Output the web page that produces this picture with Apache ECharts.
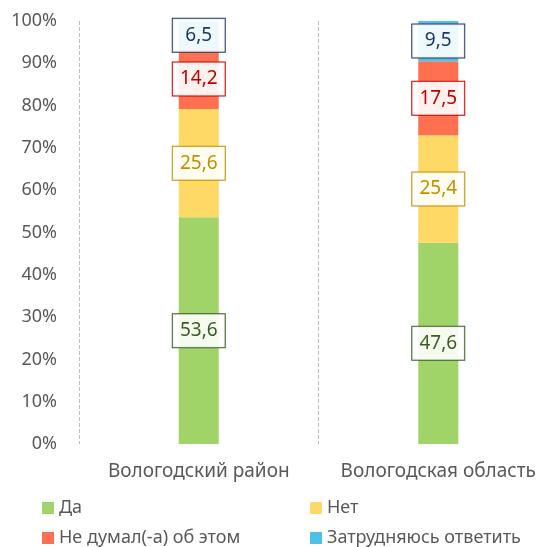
<!DOCTYPE html>
<html>
<head>
<meta charset="utf-8">
<script src="https://cdn.jsdelivr.net/npm/echarts@6/dist/echarts.min.js"></script>
<style>
  html, body { margin: 0; padding: 0; background: #fff; }
  #chart { width: 558px; height: 547px; }
</style>
</head>
<body>
<div id="chart"></div>
<script>
const categories = ['Вологодский район', 'Вологодская область'];
const seriesNames = ['Да', 'Нет', 'Не думал(-а) об этом', 'Затрудняюсь ответить'];
const yesValues = [53.6, 47.6];
const noValues = [25.6, 25.4];
const notThoughtValues = [14.2, 17.5];
const hardToSayValues = [6.5, 9.5];

const barColors = ['#A0D468', '#FFD966', '#FF7051', '#4FC1E9'];
const labelColors = ['#3B5E24', '#BF9000', '#C00000', '#1F3864'];

const chart = echarts.init(document.getElementById('chart'));

function makeSeries(name, values, idx) {
  return {
    name: name,
    type: 'bar',
    stack: 'total',
    barWidth: 40,
    data: values,
    itemStyle: { color: barColors[idx] },
    label: {
      show: true,
      position: 'inside',
      formatter: (p) => String(p.value).replace('.', ','),
      fontFamily: 'Noto Sans',
      fontSize: 19,
      color: labelColors[idx],
      backgroundColor: 'rgba(255,255,255,0.9)',
      borderColor: labelColors[idx],
      borderWidth: 1,
      width: 52,
      height: 33,
      lineHeight: 33,
      align: 'center',
      verticalAlign: 'middle',
      padding: 0
    },
    emphasis: { disabled: true }
  };
}

const option = {
  animation: false,
  textStyle: { fontFamily: 'Noto Sans' },
  grid: { left: 79, top: 21, width: 482, height: 423, containLabel: false },
  legend: {
    left: 42,
    top: 493,
    width: 540,
    padding: 0,
    itemWidth: 12,
    itemHeight: 12,
    itemGap: 0,
    icon: 'rect',
    data: seriesNames,
    textStyle: {
      fontFamily: 'Noto Sans',
      fontSize: 18,
      color: '#595959',
      width: 251,
      lineHeight: 30
    }
  },
  xAxis: {
    type: 'category',
    data: categories,
    axisLine: { show: false },
    axisTick: { show: false },
    axisLabel: {
      interval: 0,
      fontFamily: 'Noto Sans',
      fontSize: 19,
      color: '#595959',
      margin: 18
    },
    splitLine: {
      show: true,
      interval: 0,
      lineStyle: { type: 'dashed', color: '#BFBFBF', width: 1 }
    }
  },
  yAxis: {
    type: 'value',
    min: 0,
    max: 100,
    interval: 10,
    axisLine: { show: false },
    axisTick: { show: false },
    splitLine: { show: false },
    axisLabel: {
      formatter: '{value}%',
      fontFamily: 'Noto Sans',
      fontSize: 18,
      color: '#595959',
      margin: 22
    }
  },
  series: [
    makeSeries(seriesNames[0], yesValues, 0),
    makeSeries(seriesNames[1], noValues, 1),
    makeSeries(seriesNames[2], notThoughtValues, 2),
    makeSeries(seriesNames[3], hardToSayValues, 3)
  ]
};

chart.setOption(option);
</script>
</body>
</html>
